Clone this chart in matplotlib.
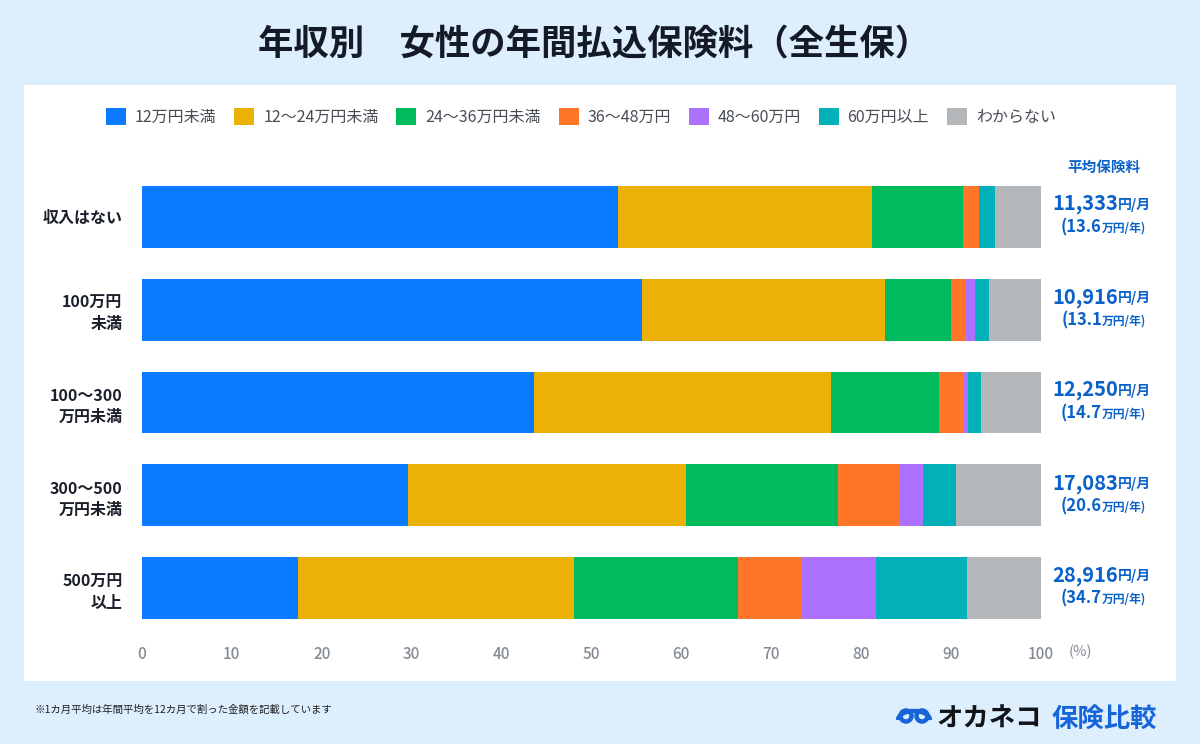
import matplotlib
matplotlib.use("Agg")
import matplotlib.pyplot as plt
from matplotlib.patches import Patch, Rectangle, Circle, Arc

plt.rcParams['font.family'] = ['Noto Sans CJK JP', 'DejaVu Sans']

# data
rows = ["収入はない", "100万円\n未満", "100〜300\n万円未満", "300〜500\n万円未満", "500万円\n以上"]
series = ["12万円未満", "12〜24万円未満", "24〜36万円未満", "36〜48万円", "48〜60万円", "60万円以上", "わからない"]
colors = ["#0A7BFF", "#EBB105", "#00BB5E", "#FF7629", "#AC72FF", "#02B1B7", "#B4B7BA"]
values = [
    [52.9, 55.6, 43.6, 29.6, 17.4],   # 12万円未満
    [28.3, 27.0, 33.0, 30.9, 30.6],   # 12~24
    [10.1, 7.4, 12.1, 16.9, 18.3],    # 24~36
    [1.8, 1.7, 2.7, 6.8, 7.1],        # 36~48
    [0.0, 1.0, 0.5, 2.7, 8.2],        # 48~60
    [1.8, 1.5, 1.4, 3.6, 10.2],       # 60以上
    [5.1, 5.8, 6.7, 9.5, 8.2],        # わからない
]
monthly = ["11,333", "10,916", "12,250", "17,083", "28,916"]
yearly = ["13.6", "13.1", "14.7", "20.6", "34.7"]

W, H = 1200, 744
def fx(x): return x / W
def fy(y): return 1 - y / H

fig = plt.figure(figsize=(12, 7.44), dpi=100)
fig.patch.set_facecolor("#DDEEFD")
fig.add_artist(Rectangle((fx(24), fy(681)), fx(1176) - fx(24), fy(85) - fy(681),
                         transform=fig.transFigure, facecolor="white", edgecolor="none", zorder=0))

title = "年収別　女性の年間払込保険料（全生保）"
fig.text(fx(594), fy(45), title, ha="center", va="center",
         fontsize=25.5, fontweight="bold", color="#141A26")

ax = fig.add_axes([fx(142), fy(634.5), fx(1041) - fx(142), fy(170.5) - fy(634.5)])
ax.set_facecolor("none")
ypos = list(range(len(rows)))
left = [0.0] * len(rows)
for s, c, v in zip(series, colors, values):
    ax.barh(ypos, v, left=left, height=0.667, color=c, edgecolor="none")
    left = [a + b for a, b in zip(left, v)]
ax.set_xlim(0, 100)
ax.set_ylim(4.5, -0.5)
ax.set_xticks(range(0, 101, 10))
ax.set_xticklabels([str(t) for t in range(0, 101, 10)], fontweight="medium")
ax.set_yticks(ypos)
ax.set_yticklabels(rows, fontsize=11.5, fontweight="bold", color="#1B1F2A", linespacing=1.4)
ax.tick_params(axis="x", length=0, pad=8, labelsize=11, labelcolor="#848B94")
ax.tick_params(axis="y", length=0, pad=14)
for sp in ax.spines.values():
    sp.set_visible(False)
fig.text(fx(1080), fy(652), "(%)", ha="center", va="center", fontsize=10.5, color="#848B94")

# legend
handles = [Patch(facecolor=c, edgecolor="none") for c in colors]
fig.legend(handles, series, loc="center", bbox_to_anchor=(fx(581), fy(117)), ncol=7,
           frameon=False, fontsize=11.5, handlelength=1.25, handleheight=1.25,
           handletextpad=0.55, columnspacing=1.12, labelcolor="#474C55")

# right side average labels
blue = "#0A62C9"
fig.text(fx(1104), fy(167), "平均保険料", ha="center", va="center", fontsize=10.5,
         fontweight="bold", color=blue)
centers = [217, 310, 403, 496, 588]
for cy, m, yv in zip(centers, monthly, yearly):
    fig.text(fx(1118), fy(cy - 13), m, ha="right", va="center", fontsize=14.5,
             fontweight="bold", color=blue)
    fig.text(fx(1118), fy(cy - 12), "円/月", ha="left", va="center", fontsize=10,
             fontweight="bold", color=blue)
    fig.text(fx(1102), fy(cy + 10), "(" + yv, ha="right", va="center", fontsize=12,
             fontweight="bold", color=blue)
    fig.text(fx(1102), fy(cy + 11), "万円/年)", ha="left", va="center", fontsize=8.5,
             fontweight="bold", color=blue)

# footer
fig.text(fx(34), fy(710), "※1カ月平均は年間平均を12カ月で割った金額を記載しています", ha="left",
         va="center", fontsize=7.5, color="#222222")

# logo
lax = fig.add_axes([fx(896), fy(732), fx(932) - fx(896), fy(706) - fy(732)])
lax.set_xlim(0, 36)
lax.set_ylim(26, 0)
lax.axis("off")
lax.add_patch(Circle((10, 10), 5.5, fill=False, lw=3.2, edgecolor="#1565D8"))
lax.add_patch(Circle((26, 10), 5.5, fill=False, lw=3.2, edgecolor="#1565D8"))
lax.add_patch(Arc((18, 14), 32, 18, theta1=180, theta2=360, lw=3.2, edgecolor="#1565D8"))
fig.text(fx(936), fy(719), "オカネコ", ha="left", va="center", fontsize=19,
         fontweight="bold", color="#111418")
fig.text(fx(1052), fy(719), "保険比較", ha="left", va="center", fontsize=19,
         fontweight="bold", color="#1565D8")

fig.savefig("out.png", dpi=100, facecolor=fig.get_facecolor())
